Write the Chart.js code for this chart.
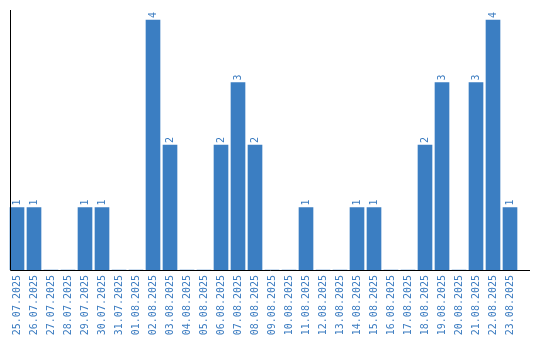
<!DOCTYPE html>
<html>
<head>
<meta charset="utf-8">
<script src="https://cdn.jsdelivr.net/npm/chart.js@4"></script>
<style>
html,body{margin:0;padding:0;background:#fff;}
#wrap{width:540px;height:340px;position:relative;}
</style>
</head>
<body>
<div id="wrap"><canvas id="c" width="540" height="340"></canvas></div>
<script>
const categories = ["25.07.2025","26.07.2025","27.07.2025","28.07.2025","29.07.2025","30.07.2025","31.07.2025","01.08.2025","02.08.2025","03.08.2025","04.08.2025","05.08.2025","06.08.2025","07.08.2025","08.08.2025","09.08.2025","10.08.2025","11.08.2025","12.08.2025","13.08.2025","14.08.2025","15.08.2025","16.08.2025","17.08.2025","18.08.2025","19.08.2025","20.08.2025","21.08.2025","22.08.2025","23.08.2025"];
const counts = [1,1,0,0,1,1,0,0,4,2,0,0,2,3,2,0,0,1,0,0,1,1,0,0,2,3,0,3,4,1];
const yMax = 4.16;

const BLUE = '#3b7ec2';
const TEXT = '#3a7bc0';
const FONT = '"DejaVu Sans Mono", monospace';

const valueLabels = {
  id: 'valueLabels',
  afterDatasetsDraw(chart) {
    const ctx = chart.ctx;
    const meta = chart.getDatasetMeta(0);
    ctx.save();
    ctx.fillStyle = TEXT;
    ctx.font = '10px ' + FONT;
    ctx.textAlign = 'left';
    ctx.textBaseline = 'middle';
    meta.data.forEach((bar, i) => {
      const v = counts[i];
      if (!v) return;
      ctx.save();
      ctx.translate(bar.x, bar.y - 2);
      ctx.rotate(-Math.PI / 2);
      ctx.fillText(String(v), 0, 0);
      ctx.restore();
    });
    ctx.restore();
  }
};

const axisLines = {
  id: 'axisLines',
  afterDraw(chart) {
    const ctx = chart.ctx;
    const a = chart.chartArea;
    const x0 = Math.round(a.left + 1.5) + 0.5;
    const yb = Math.round(a.bottom) + 0.5;
    ctx.save();
    ctx.strokeStyle = '#000';
    ctx.lineWidth = 1;
    ctx.beginPath();
    ctx.moveTo(x0, a.top);
    ctx.lineTo(x0, yb);
    ctx.lineTo(chart.width - 10, yb);
    ctx.stroke();
    ctx.restore();
  }
};

new Chart(document.getElementById('c'), {
  type: 'bar',
  data: {
    labels: categories,
    datasets: [{
      data: counts,
      backgroundColor: BLUE,
      borderWidth: 0,
      barThickness: 14
    }]
  },
  options: {
    responsive: false,
    animation: false,
    layout: { padding: { left: 8.5, right: 21.5, top: 10, bottom: 0 } },
    plugins: { legend: { display: false }, tooltip: { enabled: false } },
    scales: {
      x: {
        offset: true,
        grid: { display: false, drawTicks: false },
        border: { display: false },
        ticks: {
          autoSkip: false,
          minRotation: 90,
          maxRotation: 90,
          padding: 5,
          color: TEXT,
          font: { family: FONT, size: 10 }
        },
        afterFit(scale) { scale.height = 70; }
      },
      y: {
        display: false,
        min: 0,
        max: yMax
      }
    }
  },
  plugins: [valueLabels, axisLines]
});
</script>
</body>
</html>
